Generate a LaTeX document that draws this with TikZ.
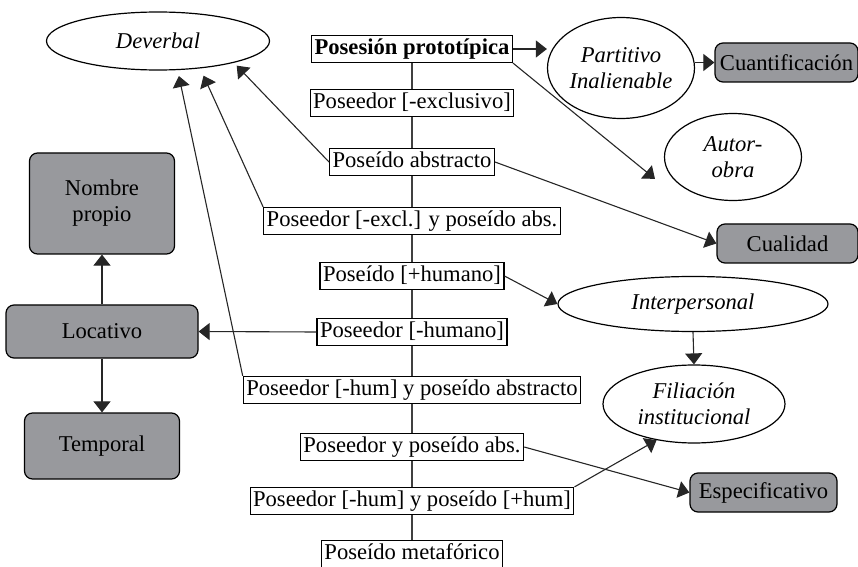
\documentclass[tikz,border=0pt]{standalone}
\usepackage{fontspec}
\setmainfont{Liberation Serif}
\usetikzlibrary{arrows.meta,shapes.geometric}
\definecolor{boxgray}{RGB}{152,153,157}
\tikzset{
  feat/.style={draw,line width=.6pt,inner xsep=1.5pt,inner ysep=1.5pt,text height=8pt,text depth=2.5pt},
  sense/.style={draw,ellipse,line width=.6pt,inner sep=0pt,align=center,font=\fontsize{11.3}{13}\selectfont\itshape},
  kind/.style={draw,rounded corners=4pt,fill=boxgray,line width=.6pt,inner sep=0pt,align=center},
  arr/.style={-{Triangle[length=5.5pt,width=8.5pt]},line width=.55pt,black!85}
}

\begin{document}
\begin{tikzpicture}[x=.5pt,y=-.5pt,font=\fontsize{11.3}{13}\selectfont]
\useasboundingbox (0,0) rectangle (858,567);
\path (412,49) node[feat,font=\fontsize{11.3}{13}\selectfont\bfseries] (proto) {Posesión prototípica}
      (412,103) node[feat] (excl) {Poseedor [-exclusivo]}
      (412,162) node[feat] (abs) {Poseído abstracto}
      (412,221) node[feat] (exab) {Poseedor [-excl.] y poseído abs.}
      (412,276) node[feat] (hum) {Poseído [+humano]}
      (412,332) node[feat] (nhum) {Poseedor [-humano]}
      (412,390) node[feat] (humab) {Poseedor [-hum] y poseído abstracto}
      (412,447) node[feat] (yabs) {Poseedor y poseído abs.}
      (412,501) node[feat] (hh) {Poseedor [-hum] y poseído [+hum]}
      (412,554) node[feat] (meta) {Poseído metafórico};

\path (158,41) node[sense,minimum width=111.5pt,minimum height=29pt] (dev) {Deverbal}
      (621,68) node[sense,minimum width=73.5pt,minimum height=50.5pt] (part) {Partitivo\\Inalienable}
      (733,157) node[sense,minimum width=68.5pt,minimum height=43.5pt] (autor) {Autor-\\obra}
      (693,304) node[sense,minimum width=135pt,minimum height=27.5pt] (inter) {Interpersonal}
      (694,404) node[sense,minimum width=91pt,minimum height=39pt] (fil) {Filiación\\institucional};

\path (786.5,62.5) node[kind,minimum width=71.5pt,minimum height=19.5pt] (cuant) {Cuantificación}
      (787.5,243.5) node[kind,minimum width=70.5pt,minimum height=19.5pt] (cual) {Cualidad}
      (763.5,492.5) node[kind,minimum width=73.5pt,minimum height=19.5pt] (esp) {Especificativo}
      (102,203.5) node[kind,minimum width=72.5pt,minimum height=50.5pt] (nom) {Nombre\\propio}
      (102,331.5) node[kind,minimum width=96pt,minimum height=26.5pt] (loc) {Locativo}
      (102,446) node[kind,minimum width=77.5pt,minimum height=33pt] (temp) {Temporal};

\draw[line width=.6pt,black!75] (proto) -- (excl) -- (abs) -- (exab) -- (hum) -- (nhum) -- (humab) -- (yabs) -- (hh) -- (meta);

\draw[arr] (proto.east) -- (proto.east -| part.west);
\draw[arr] (cuant.west -| part.east) -- (cuant.west);
\draw[arr] (proto.south east) -- ([xshift=-9pt]autor.200);
\draw[arr] (abs.east) -- (cual.west);
\draw[arr,shorten >=2pt] (abs.west) -- (dev.-16);
\draw[arr,shorten >=4pt] (exab.north west) -- (dev.-33);
\draw[arr,shorten >=3pt] (humab.north west) -- (dev.-56);
\draw[arr] (hum.east) -- (inter.west);
\draw[arr] (nhum.west) -- (loc.east);
\draw[arr] (inter.south) -- (fil.north);
\draw[arr] (loc.north) -- (nom.south);
\draw[arr] (loc.south) -- (temp.north);
\draw[arr] (yabs.east) -- (esp.west);
\draw[arr] (hh.north east) -- (fil.224);
\end{tikzpicture}
\end{document}
